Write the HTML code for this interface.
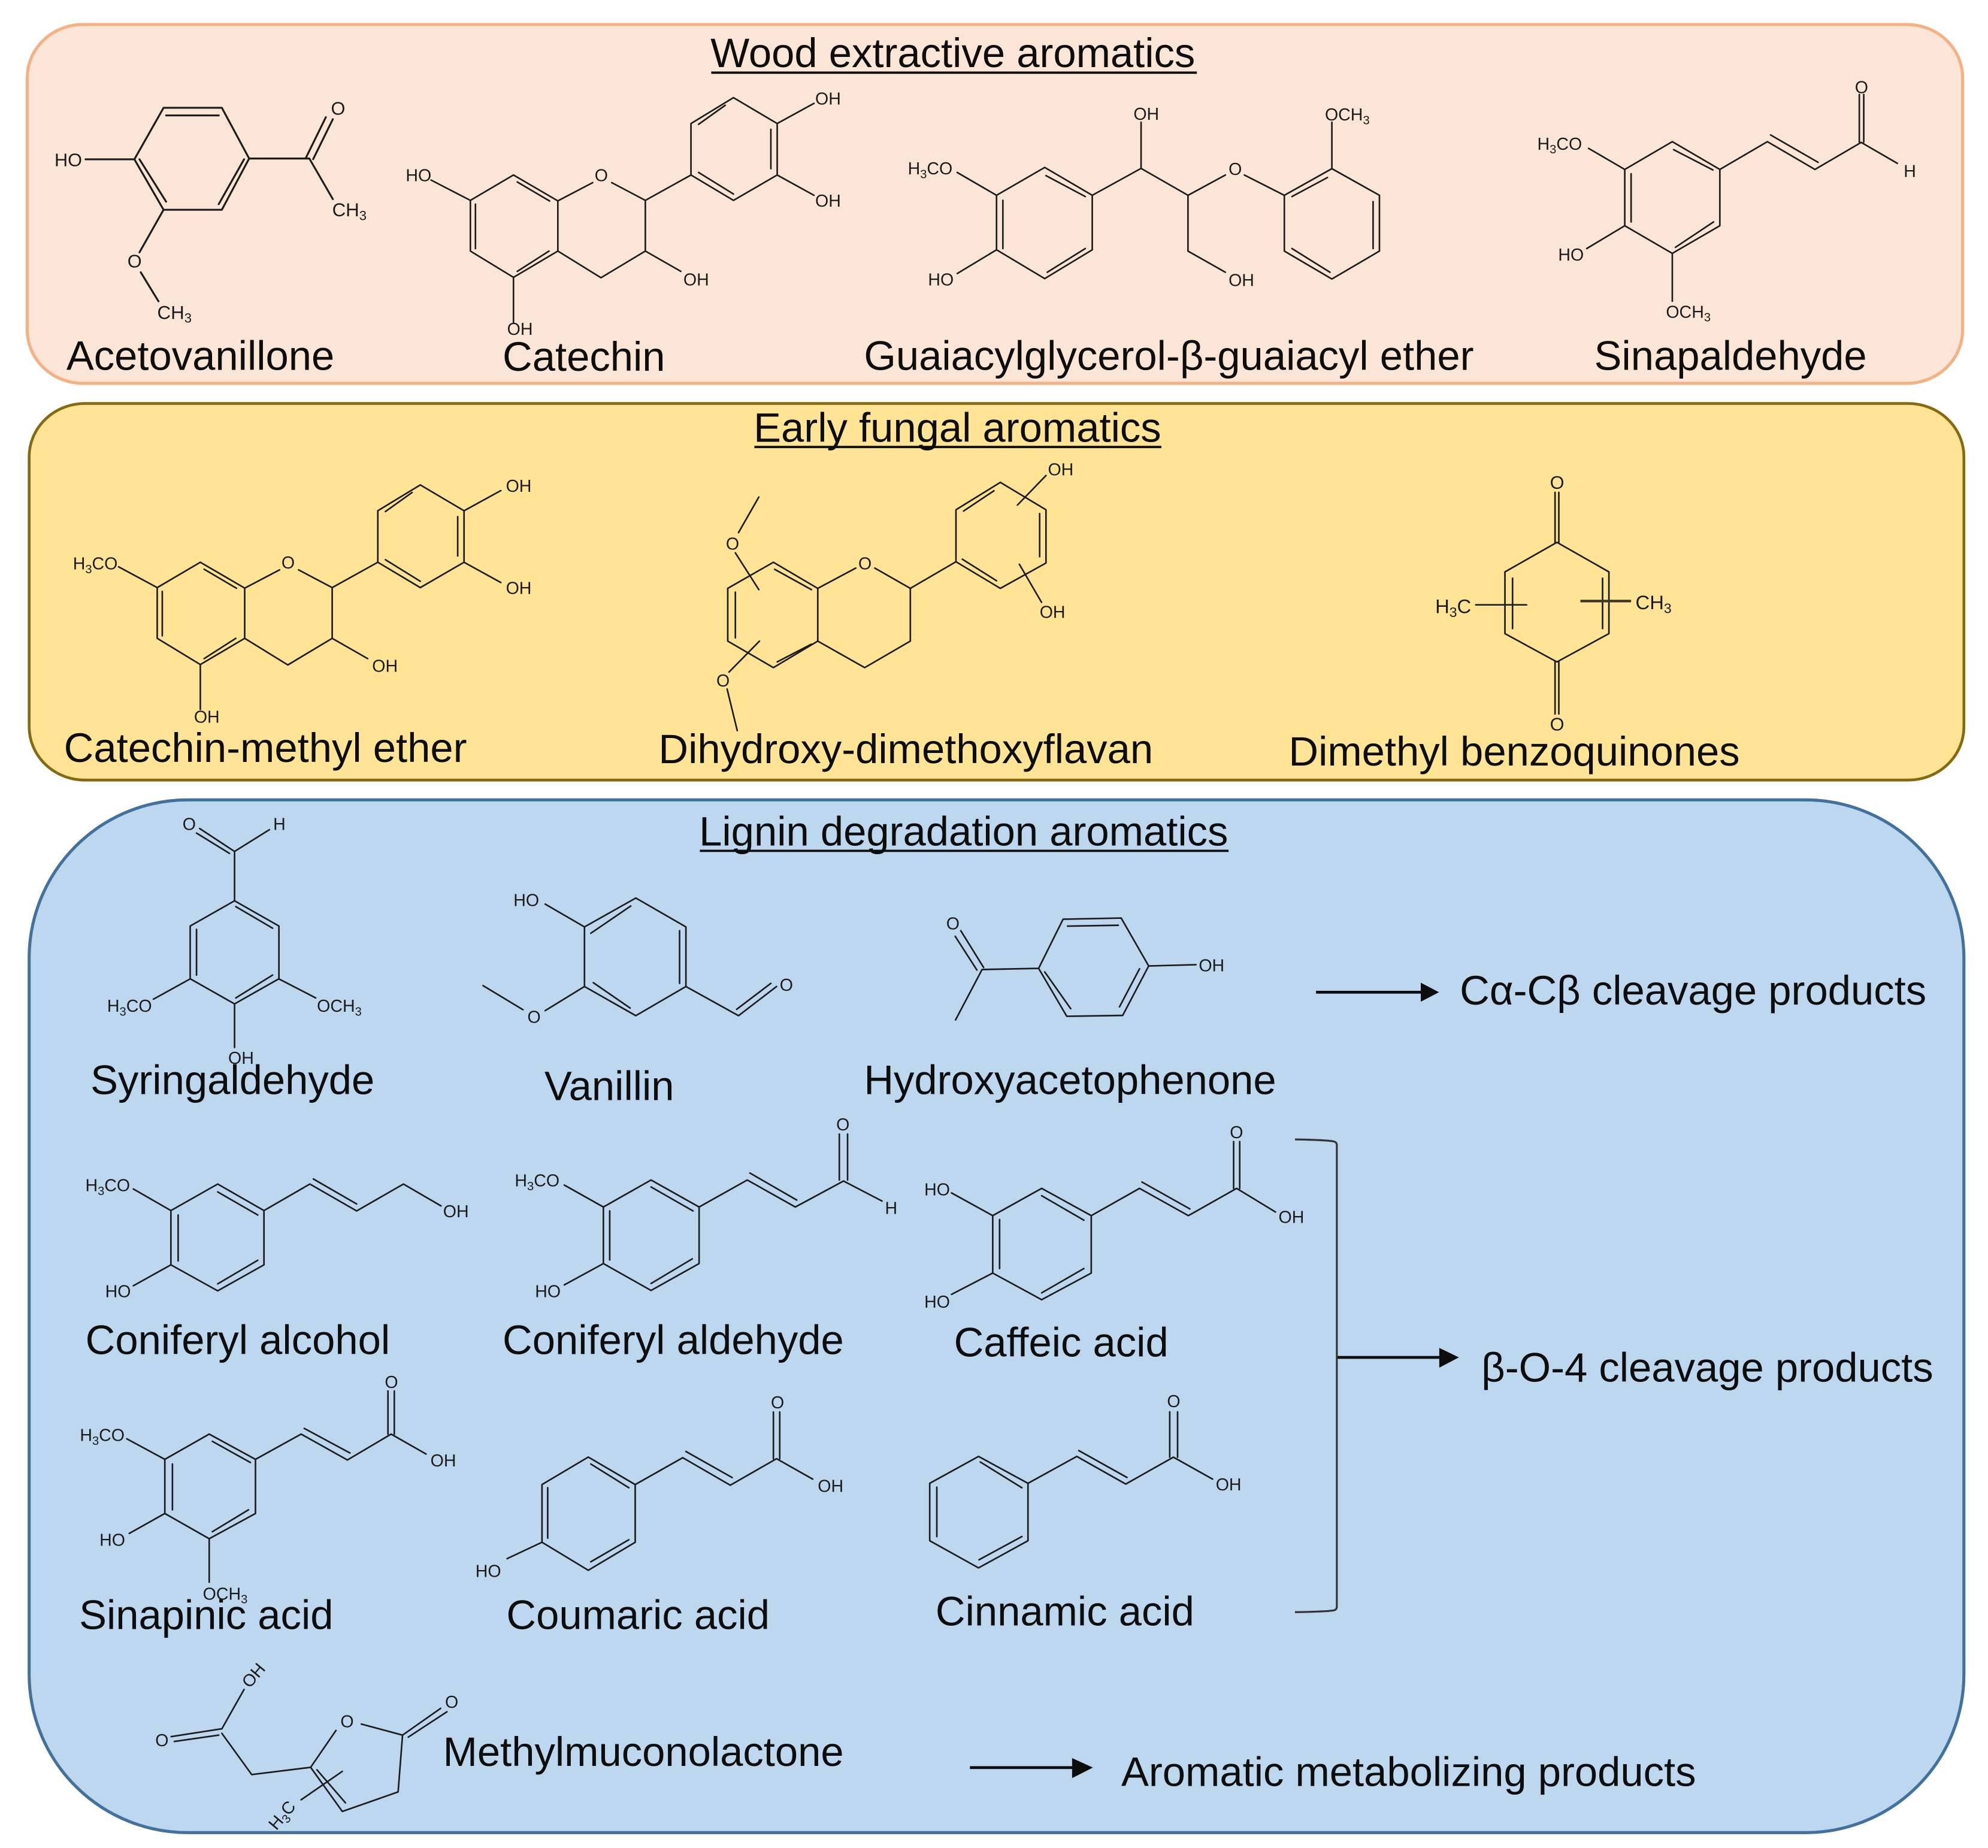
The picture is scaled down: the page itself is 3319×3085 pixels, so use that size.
<!DOCTYPE html>
<html lang="en"><head><meta charset="utf-8"><title>Aromatics diagram</title>
<style>
html,body{margin:0;padding:0;background:#fff}
svg{display:block}
text{font-family:"Liberation Sans",Arial,sans-serif;fill:#0d0d0d}
.n{font-size:32.5px}
.a{font-size:13.5px;fill:#1a1a1a}
.b{font-size:15px}
.m{fill:none;stroke:#1c1c1c;stroke-width:1.25;stroke-linecap:round;stroke-linejoin:round}
.u{stroke:#0d0d0d;stroke-width:1.8}
.s{font-size:9.5px}
.b .s,.s.b{font-size:10.5px}
</style></head><body>
<svg xmlns="http://www.w3.org/2000/svg" width="3319" height="3085" viewBox="0 0 1568 1457.4">
<rect width="1568" height="1457.4" fill="#fff"/>
<rect x="21.5" y="19.3" width="1526.5" height="283" rx="44" ry="42" fill="#FBE5D6" stroke="#F4B183" stroke-width="2.4"/>
<rect x="23" y="318.2" width="1526" height="297" rx="44" ry="42" fill="#FFE495" stroke="#866A10" stroke-width="2.2"/>
<rect x="23" y="630.8" width="1526" height="814.5" rx="125" ry="125" fill="#BDD7EE" stroke="#41719C" stroke-width="2.4"/>

<g transform="translate(-0.6,0.8)">
<!-- titles -->
<text class="n" x="561" y="52">Wood extractive aromatics</text>
<text class="n" x="595" y="347.6">Early fungal aromatics</text>
<text class="n" x="552" y="666">Lignin degradation aromatics</text>

<!-- names -->
<text class="n" x="53" y="291">Acetovanillone</text>
<text class="n" x="397" y="291.5">Catechin</text>
<text class="n" x="682" y="291">Guaiacylglycerol-β-guaiacyl ether</text>
<text class="n" x="1258" y="291">Sinapaldehyde</text>
<text class="n" x="51" y="600">Catechin-methyl ether</text>
<text class="n" x="520" y="601">Dihydroxy-dimethoxyflavan</text>
<text class="n" x="1017" y="603">Dimethyl benzoquinones</text>
<text class="n" x="72" y="862">Syringaldehyde</text>
<text class="n" x="430" y="866.8">Vanillin</text>
<text class="n" x="682" y="862">Hydroxyacetophenone</text>
<text class="n" x="1152" y="791.4">Cα-Cβ cleavage products</text>
<text class="n" x="68" y="1067">Coniferyl alcohol</text>
<text class="n" x="397" y="1067">Coniferyl aldehyde</text>
<text class="n" x="753" y="1069">Caffeic acid</text>
<text class="n" x="1169" y="1088.9">β-O-4 cleavage products</text>
<text class="n" x="63" y="1284">Sinapinic acid</text>
<text class="n" x="400" y="1284">Coumaric acid</text>
<text class="n" x="738.5" y="1281.2">Cinnamic acid</text>
<text class="n" x="350" y="1392">Methylmuconolactone</text>
<text class="n" x="885" y="1407.8">Aromatic metabolizing products</text>
</g>
<line class="u" x1="561" y1="57.3" x2="944" y2="57.3"/>
<line class="u" x1="595" y1="352.5" x2="916" y2="352.5"/>
<line class="u" x1="552" y1="671" x2="969" y2="671"/>

<!-- arrows and bracket -->
<g fill="none" stroke="#0d0d0d" stroke-width="2.2">
<line x1="1038" y1="782.5" x2="1122" y2="782.5"/>
<line x1="1054.4" y1="1070.5" x2="1137" y2="1070.5"/>
<line x1="765" y1="1394" x2="847" y2="1394"/>
</g>
<polygon points="1120.6,775 1135,782.5 1120.6,790" fill="#0d0d0d"/>
<polygon points="1135.2,1063 1150.7,1070.5 1135.2,1078.6" fill="#0d0d0d"/>
<polygon points="845.6,1386.5 862,1394 845.6,1402.3" fill="#0d0d0d"/>
<path d="M1021.4,898.6 Q1046,899 1052,900.2 Q1054.4,900.8 1054.4,903 V1267 Q1054.4,1269.6 1052,1270 Q1046,1271 1021.4,1271.4" fill="none" stroke="#333" stroke-width="1.5"/>

<!-- Acetovanillone -->
<path class="m" style="stroke-width:1.5" d="M129,85 L175,85 L196.5,125 L175,165.4 L129,165.4 L106,125.6 Z M131,91 L172.5,91 M110,125.6 L131,159 M192.5,125.6 L172.5,161 M67.5,125.6 L106,125.6 M196.5,125 L244,125 M241,125 L257,92.4 M247,125.5 L262.5,94 M244,125 L262.5,157 M129,165.4 L110,199 M111,214.7 L125,237.6"/>
<text class="a" x="43" y="131" style="font-size:14.5px">HO</text>
<text class="a" x="261" y="90.5" style="font-size:14.5px">O</text>
<text class="a" x="262" y="170.5" style="font-size:14.8px">CH<tspan class="s" dy="3" style="font-size:10.4px">3</tspan></text>
<text class="a" x="100.5" y="211" style="font-size:14.5px">O</text>
<text class="a" x="124" y="251.5" style="font-size:14.8px">CH<tspan class="s" dy="3" style="font-size:10.4px">3</tspan></text>

<!-- Catechin -->
<path class="m" d="M405,138 L440,158.4 L440,198 L405,218.7 L371,198 L371,158 Z M408,143.5 L433.5,158.5 M375,161 L375,196 M408,214 L433,198 M440,158.4 L467.5,144 M482.5,144 L509,158 L509,198 L474,219 L440,198 M509,158 L545,138 M545,138 L578.5,158 L613,138 L613,97.4 L578.5,77 L545,97.4 Z M551,136 L578.5,153 M608,102 L608,133 M551,98 L572,83 M340,142 L371,158 M613,97.4 L642,81.5 M613,138 L642,154 M509,198 L537,214 M405,218.7 L405,254"/>
<text class="a" x="320" y="143">HO</text>
<text class="a" x="469" y="143">O</text>
<text class="a" x="643" y="82.5">OH</text>
<text class="a" x="643" y="163">OH</text>
<text class="a" x="539" y="225">OH</text>
<text class="a" x="400" y="264">OH</text>

<!-- Guaiacylglycerol -->
<path class="m" d="M824,132 L861.5,154 L861.5,197 L824,219.7 L786,197 L786,154 Z M825,138.5 L856,155 M791,158 L791,196 M826,214.7 L856,196 M755,136 L786,154 M755,215.7 L786,197 M861.5,154 L900,132.8 L937,154 L966.5,138 M900,132.8 L900,96.4 M981.5,138 L1013,154 M937,154 L937,198 L966.5,214.7 M1050.5,133 L1088,154 L1088,198 L1050.5,220 L1013,198 L1013,154 Z M1047,140 L1019,155 M1083,159 L1083,196 M1019,196 L1049,214.7 M1050.5,133 L1050.5,96.4"/>
<text class="a" x="716" y="137.5">H<tspan class="s" dy="3">3</tspan><tspan dy="-3">CO</tspan></text>
<text class="a" x="732" y="225">HO</text>
<text class="a" x="894" y="94.5">OH</text>
<text class="a" x="969" y="225.5">OH</text>
<text class="a" x="969" y="138">O</text>
<text class="a" x="1045" y="95">OCH<tspan class="s" dy="3">3</tspan></text>

<!-- Sinapaldehyde -->
<path class="m" d="M1319,111.7 L1356.5,133.6 L1356.5,178 L1319,199.8 L1281.5,178 L1281.5,133.6 Z M1320,118 L1351,134 M1286.5,137 L1286.5,175 M1321.5,195 L1351.5,175 M1356.5,133.6 L1394,111.7 L1431.5,133.6 L1468,112.3 M1396.5,106.4 L1434,128 M1466.5,112 L1466.5,74.5 M1470,112 L1470,74.5 M1468,112.3 L1496.5,128.8 M1253,117 L1281.5,133.6 M1251.5,196 L1281.5,178 M1319,200 L1319,237.5"/>
<text class="a" x="1212.5" y="118">H<tspan class="s" dy="3">3</tspan><tspan dy="-3">CO</tspan></text>
<text class="a" x="1229" y="205.5">HO</text>
<text class="a" x="1314" y="250.5">OCH<tspan class="s" dy="3">3</tspan></text>
<text class="a" x="1463" y="73.5">O</text>
<text class="a" x="1501.5" y="139.5">H</text>

<!-- Catechin-methyl ether -->
<g transform="translate(-247,305.4)">
<path class="m" d="M405,138 L440,158.4 L440,198 L405,218.7 L371,198 L371,158 Z M408,143.5 L433.5,158.5 M375,161 L375,196 M408,214 L433,198 M440,158.4 L467.5,144 M482.5,144 L509,158 L509,198 L474,219 L440,198 M509,158 L545,138 M545,138 L578.5,158 L613,138 L613,97.4 L578.5,77 L545,97.4 Z M551,136 L578.5,153 M608,102 L608,133 M551,98 L572,83 M340.5,141.6 L371,158 M613,97.4 L642,81.5 M613,138 L642,154 M509,198 L537,214 M405,218.7 L405,254"/>
<text class="a" x="469" y="143">O</text>
<text class="a" x="646" y="82.5">OH</text>
<text class="a" x="646" y="163">OH</text>
<text class="a" x="540.5" y="224.5">OH</text>
<text class="a" x="400" y="264.5">OH</text>
</g>
<text class="a" x="57.5" y="449">H<tspan class="s" dy="3">3</tspan><tspan dy="-3">CO</tspan></text>

<!-- Dihydroxy-dimethoxyflavan -->
<path class="m" d="M610,443.4 L645,464 L645,505.6 L610,526.5 L574,505.6 L574,464 Z M611,449 L640,465 M580,467 L580,503 M613,522 L640,508 M645,464 L675,448 M690,448 L718,464 L718,505.6 L682,526.5 L645,505.6 M718,464 L754,443 M754,443 L789,464 L825,444 L825,402 L789,380.4 L754,402 Z M759,441 L786,458 M820,405 L820,439 M760,403 L784,387 M598.5,392 L582.5,420 M580,436 L598.5,465 M599,505.6 L575,530 M573.5,543.4 L581.5,576.2 M825,375 L802.5,398.3 M804,445 L821.5,475"/>
<text class="a" x="677" y="449">O</text>
<text class="a" x="572.5" y="433.5">O</text>
<text class="a" x="565" y="541.5">O</text>
<text class="a" x="826.5" y="374.8">OH</text>
<text class="a" x="820" y="487.4">OH</text>

<!-- Dimethyl benzoquinones -->
<path class="m" d="M1228,427.7 L1269,451 L1269,499.7 L1228,522 L1187,499.7 L1187,451 Z M1193,456 L1193,495.7 M1264,456 L1264,495.7 M1226.5,428 L1226.5,388.3 M1229.5,428 L1229.5,388.3 M1226.5,522 L1226.5,563 M1229.5,522 L1229.5,563 M1164,477 L1204,477"/>
<line x1="1246.5" y1="474" x2="1286.5" y2="474" stroke="#3b3622" stroke-width="2"/>
<text class="a" x="1222.5" y="385.5" style="font-size:14.5px">O</text>
<text class="a" x="1222.5" y="576" style="font-size:14.5px">O</text>
<text class="a" x="1132" y="483.5" style="font-size:15.5px">H<tspan class="s" dy="3" style="font-size:10.8px">3</tspan><tspan dy="-3">C</tspan></text>
<text class="a" x="1290" y="480.5" style="font-size:15.5px">CH<tspan class="s" dy="3" style="font-size:10.8px">3</tspan></text>

<!-- Syringaldehyde -->
<path class="m" d="M185,710.4 L220,730.3 L220,771.9 L185,791.7 L150,771.9 L150,730.3 Z M186,715 L215,732 M155,733 L155,769 M186,787 L215,769 M185,710.4 L185,671.5 M185,671.5 L157.5,653.4 M181,673 L155,657 M185,671.5 L212.5,654.3 M121,788 L150,772 M220,772 L249,787 M185,792 L185,826"/>
<text class="a" x="144" y="654.5">O</text>
<text class="a" x="215.5" y="654.5">H</text>
<text class="a" x="84.5" y="798">H<tspan class="s" dy="3">3</tspan><tspan dy="-3">CO</tspan></text>
<text class="a" x="250" y="798">OCH<tspan class="s" dy="3">3</tspan></text>
<text class="a" x="180" y="839">OH</text>

<!-- Vanillin -->
<path class="m" d="M501.5,708.2 L541,731 L541,778 L501.5,801 L461,778 L461,731 Z M466,736 L497.5,714.5 M536,734 L536,775.5 M468,775 L497,795 M430,713 L461,731 M461,778 L430,797 M412.5,796.3 L381,777.3 M541,778 L582.5,801 L612.5,778 M581,796 L608,775.5"/>
<text class="a" x="405" y="714.5">HO</text>
<text class="a" x="416" y="806.7">O</text>
<text class="a" x="615" y="781.4">O</text>

<!-- Hydroxyacetophenone -->
<path class="m" d="M819.2,763.7 L838.5,724.9 L884.3,724 L906,761.8 L885.5,800.8 L841.4,801.5 Z M842,730.4 L882,729.7 M824,766.5 L844.5,795.5 M898.8,764 L883,794 M774.6,764.6 L819.2,763.7 M774.6,764.6 L753.7,804.3 M775.8,763 L757.8,734 M770.5,765 L753.4,738.4 M906,761.8 L943.3,760.8"/>
<text class="a" x="746.3" y="733">O</text>
<text class="a" x="945.5" y="766">OH</text>

<!-- Coniferyl alcohol -->
<path class="m" d="M134.8,954.7 L171.7,933.8 L208.2,954.7 L208.2,997.5 L171.7,1018 L134.8,997.5 Z M171.7,940 L203.3,958.2 M140.5,958.2 L140.5,994.4 M171.7,1012.5 L203.3,993.9 M105.2,937.7 L134.8,954.7 M105.2,1014 L134.8,997.5 M208.2,954.7 L244.4,933.8 L281.3,955 L318.2,933.8 L347.8,951 M247.2,929.8 L281.3,949.5"/>
<text class="a" x="67.3" y="939.5">H<tspan class="s" dy="3">3</tspan><tspan dy="-3">CO</tspan></text>
<text class="a" x="83" y="1023">HO</text>
<text class="a" x="349.5" y="960">OH</text>

<!-- Coniferyl aldehyde -->
<path class="m" d="M475.9,951.9 L513.5,930.6 L551.4,951.9 L551.4,996.5 L513.5,1017.7 L475.9,996.5 Z M513.5,936.1 L546.6,955 M480.9,955 L480.9,993.6 M513.5,1012.2 L546,992.8 M445.1,934.6 L475.9,951.9 M445.1,1013.3 L475.9,996.5 M551.4,951.9 L589.4,930.6 L627.3,951.9 L665.3,931.4 L695.7,947.2 M591.5,925.1 L628.4,946.4 M662,930.6 L662,894.4 M668.5,930.6 L668.5,894.4"/>
<text class="a" x="406" y="935.6">H<tspan class="s" dy="3">3</tspan><tspan dy="-3">CO</tspan></text>
<text class="a" x="422" y="1023">HO</text>
<text class="a" x="659.6" y="891.5">O</text>
<text class="a" x="698" y="957.4">H</text>

<!-- Caffeic acid -->
<path class="m" d="M783,958.7 L821.6,937.2 L860.7,958.7 L860.7,1004 L821.6,1025 L783,1004 Z M821.6,943 L854.9,962.3 M788.4,961.8 L788.4,1000.4 M821.6,1019.6 L854.9,1000.4 M750.5,940.8 L783,958.7 M750.5,1020.8 L783,1004 M860.7,958.7 L898.8,937.2 L937.3,958.7 L975.4,937.2 L1006,955.8 M900.7,932.2 L938.5,953.4 M973,937.2 L973,900.3 M977.8,937.2 L977.8,900.3"/>
<text class="a" x="729" y="942.7">HO</text>
<text class="a" x="729" y="1031.4">HO</text>
<text class="a" x="970" y="897.6">O</text>
<text class="a" x="1008.4" y="964.4">OH</text>

<!-- Sinapinic acid -->
<path class="m" d="M130,1150.9 L165,1131 L201.5,1150.9 L201.5,1193.6 L165,1213.5 L130,1193.6 Z M167.5,1136.7 L197.5,1153.4 M136,1154.6 L136,1190.7 M167.5,1208 L196,1190.7 M100,1134.7 L130,1150.9 M102,1209.3 L130,1193.6 M165,1213.5 L165,1247.8 M201.5,1150.9 L237.5,1131 L274,1151.4 L308.5,1131 L336,1146.7 M240,1126.5 L276,1145.9 M306,1131 L306,1097 M311,1131 L311,1097"/>
<text class="a" x="63" y="1136.5">H<tspan class="s" dy="3">3</tspan><tspan dy="-3">CO</tspan></text>
<text class="a" x="78.5" y="1219">HO</text>
<text class="a" x="160" y="1261.5">OCH<tspan class="s" dy="3">3</tspan></text>
<text class="a" x="303.5" y="1094.5">O</text>
<text class="a" x="339.5" y="1156.6">OH</text>

<!-- Coumaric acid -->
<path class="m" d="M427.5,1170.8 L464,1149.1 L501,1170.8 L501,1216.3 L464,1238.4 L427.5,1216.3 Z M466,1154.6 L496,1173.3 M432,1173.3 L432,1213 M466,1231.7 L496,1214.3 M400,1229.2 L427.5,1216.3 M501,1170.8 L538.5,1149.6 L576,1171.3 L612.5,1150.4 L641,1166.5 M541,1144.7 L577.5,1165.3 M610,1150.4 L610,1113.6 M615,1150.4 L615,1113.6"/>
<text class="a" x="375" y="1243.6">HO</text>
<text class="a" x="608" y="1110.6">O</text>
<text class="a" x="645" y="1176.5">OH</text>

<!-- Cinnamic acid -->
<path class="m" d="M733.3,1169.8 L771.8,1148.6 L810.8,1169.8 L810.8,1215.1 L771.8,1236.5 L733.3,1215.1 Z M773.2,1153 L806,1173.3 M738.9,1172.9 L738.9,1211.8 M772.2,1230.1 L806,1211.8 M810.8,1169.8 L849.3,1148.6 L887.9,1170.4 L925.5,1149.2 L956.4,1166.5 M850.9,1144 L888.9,1165.2 M922.6,1149.2 L922.6,1113.5 M928.8,1149.2 L928.8,1113.5"/>
<text class="a" x="920.5" y="1109.8">O</text>
<text class="a" x="958.9" y="1175.4">OH</text>

<!-- Methylmuconolactone -->
<path class="m" d="M135,1369.6 L175,1363.4 M137.5,1373.4 L172.5,1368.4 M175,1363.4 L192.5,1332.4 M175,1367 L198.5,1399.5 L245,1393.8 L265,1364.7 M285,1359.7 L317.5,1368.4 L347.5,1347.3 M322,1370 L352.5,1350 M317.5,1368.4 L314,1413.2 L270,1428.6 L245,1393.8 M272.5,1421.8 L250,1395.8 M270,1397 L237.5,1419.4"/>
<text class="a" x="122.5" y="1377">O</text>
<text class="a" x="268.5" y="1362.2">O</text>
<text class="a" x="351" y="1346.8">O</text>
<text class="a" transform="translate(197,1332) rotate(-50)">OH</text>
<text class="a" transform="translate(218,1444) rotate(-50)">H<tspan class="s" dy="3">3</tspan><tspan dy="-3">C</tspan></text>
</svg>
</body></html>
